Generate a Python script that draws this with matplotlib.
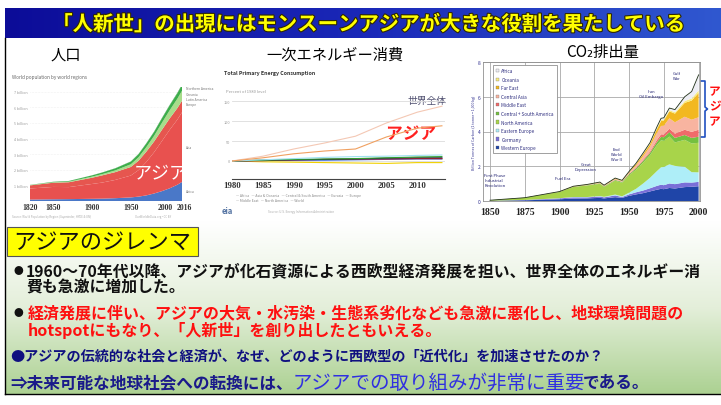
import matplotlib
matplotlib.use("Agg")
import matplotlib.pyplot as plt
import matplotlib.patheffects as pe
import matplotlib.transforms as mtransforms
from matplotlib.colors import LinearSegmentedColormap
from matplotlib.patches import Rectangle, Patch
import numpy as np

plt.rcParams['font.family'] = ['Noto Sans CJK JP', 'DejaVu Sans']

W, H = 721, 406

# ---- texts ----
title = "「人新世」の出現にはモンスーンアジアが大きな役割を果たしている"
chart_titles = ["人口", "一次エネルギー消費", "CO₂排出量"]
box_label = "アジアのジレンマ"
line1a = "1960～70年代以降、アジアが化石資源による西欧型経済発展を担い、世界全体のエネルギー消"
line1b = "費も急激に増加した。"
line2a = "経済発展に伴い、アジアの大気・水汚染・生態系劣化なども急激に悪化し、地球環境問題の"
line2b = "hotspotにもなり、「人新世」を創り出したともいえる。"
line3 = "●アジアの伝統的な社会と経済が、なぜ、どのように西欧型の「近代化」を加速させたのか？"
line4a = "⇒未来可能な地球社会への転換には、"
line4b = "アジアでの取り組みが非常に重要"
line4c = "である。"

# ---- population (billions) ----
pop_years = [1820, 1850, 1870, 1900, 1913, 1930, 1950, 1960, 1970, 1980, 1990, 2000, 2010, 2016]
pop_africa = [0.09, 0.11, 0.12, 0.14, 0.15, 0.18, 0.23, 0.28, 0.36, 0.48, 0.63, 0.81, 1.04, 1.22]
pop_asia = [0.71, 0.79, 0.77, 0.95, 1.03, 1.17, 1.40, 1.70, 2.14, 2.64, 3.20, 3.74, 4.17, 4.46]
pop_europe = [0.20, 0.27, 0.31, 0.40, 0.46, 0.50, 0.55, 0.60, 0.66, 0.69, 0.72, 0.73, 0.74, 0.74]
pop_latam = [0.02, 0.03, 0.04, 0.07, 0.08, 0.11, 0.17, 0.22, 0.29, 0.36, 0.45, 0.52, 0.60, 0.64]
pop_namerica = [0.01, 0.03, 0.04, 0.08, 0.10, 0.13, 0.17, 0.20, 0.23, 0.25, 0.28, 0.31, 0.34, 0.36]
pop_oceania = [0.002, 0.002, 0.004, 0.006, 0.008, 0.010, 0.013, 0.016, 0.020, 0.023, 0.027, 0.031, 0.037, 0.040]
pop_ticks = [1820, 1850, 1900, 1950, 2000, 2016]
pop_region_labels = ["Northern America", "Oceania", "Latin America", "Europe", "Asia", "Africa"]

# ---- primary energy (% change) ----
en_years = [1980, 1985, 1990, 1995, 2000, 2005, 2010, 2014]
en_world = [0, 12, 30, 45, 62, 95, 122, 137]
en_asia = [0, 8, 18, 25, 30, 60, 82, 88]
en_cyan = [0, 3, 6, 9, 11, 12, 14, 15]
en_green = [0, 2, 4, 5, 6, 8, 10, 11]
en_dark = [0, 2, 3, 4, 5, 7, 8, 8]
en_red = [0, 1, 3, 4, 5, 5, 6, 6]
en_blue = [0, 1, 2, 2, 3, 4, 5, 5]
en_yellow = [0, -2, -3, -4, -5, -6, -4, -4]
en_ticks = [1980, 1985, 1990, 1995, 2000, 2005, 2010]

# ---- CO2 emissions (billion tonnes carbon) ----
co2_years = [1850, 1875, 1900, 1910, 1920, 1929, 1932, 1940, 1945, 1950, 1955, 1960,
             1965, 1970, 1973, 1975, 1979, 1983, 1990, 1995, 2000]
co2_weurope = [0.01, 0.04, 0.10, 0.14, 0.15, 0.18, 0.15, 0.22, 0.18, 0.30, 0.38, 0.45,
               0.55, 0.65, 0.70, 0.68, 0.75, 0.72, 0.80, 0.82, 0.85]
co2_germany = [0.005, 0.02, 0.05, 0.07, 0.06, 0.08, 0.06, 0.10, 0.05, 0.08, 0.12, 0.15,
               0.18, 0.22, 0.24, 0.23, 0.26, 0.25, 0.27, 0.24, 0.25]
co2_eeurope = [0.0, 0.0, 0.01, 0.02, 0.02, 0.03, 0.03, 0.05, 0.04, 0.10, 0.20, 0.40,
               0.60, 0.85, 1.00, 1.05, 1.10, 1.05, 0.90, 0.60, 0.55]
co2_namerica = [0.03, 0.13, 0.36, 0.58, 0.66, 0.70, 0.57, 0.80, 0.78, 1.00, 1.10, 1.20,
                1.30, 1.50, 1.55, 1.50, 1.60, 1.35, 1.55, 1.65, 1.70]
co2_csamerica = [0.0, 0.0, 0.01, 0.01, 0.02, 0.03, 0.03, 0.04, 0.05, 0.06, 0.08, 0.10,
                 0.13, 0.17, 0.20, 0.21, 0.25, 0.26, 0.28, 0.32, 0.35]
co2_mideast = [0.0, 0.0, 0.0, 0.0, 0.0, 0.005, 0.005, 0.01, 0.01, 0.02, 0.04, 0.06,
               0.08, 0.12, 0.15, 0.16, 0.20, 0.25, 0.30, 0.35, 0.40]
co2_casia = [0.0, 0.0, 0.01, 0.02, 0.02, 0.03, 0.03, 0.05, 0.04, 0.07, 0.12, 0.20,
             0.28, 0.40, 0.48, 0.50, 0.60, 0.65, 0.75, 0.70, 0.72]
co2_fareast = [0.0, 0.0, 0.005, 0.01, 0.015, 0.02, 0.02, 0.03, 0.02, 0.04, 0.08, 0.12,
               0.14, 0.22, 0.28, 0.30, 0.40, 0.50, 0.80, 1.10, 1.40]
co2_oceania = [0.0, 0.0, 0.0, 0.0, 0.005, 0.005, 0.005, 0.01, 0.01, 0.01, 0.02, 0.03,
               0.04, 0.05, 0.06, 0.06, 0.07, 0.08, 0.10, 0.12, 0.14]
co2_africa = [0.0, 0.0, 0.0, 0.0, 0.005, 0.01, 0.01, 0.01, 0.01, 0.02, 0.03, 0.04,
              0.05, 0.08, 0.10, 0.10, 0.12, 0.15, 0.25, 0.40, 0.90]
co2_labels = ["Western Europe", "Germany", "Eastern Europe", "North America",
              "Central + South America", "Middle East", "Central Asia", "Far East",
              "Oceania", "Africa"]
co2_colors = ['#1f45a8', '#7a6fd8', '#aeeef8', '#a8d44a', '#74c040',
              '#f06a6a', '#f8b4a0', '#f2b820', '#f8ec80', '#eeeef4']
co2_events = ["First Phase\nIndustrial\nRevolution", "Fuel Era", "Great\nDepression",
              "End\nWorld\nWar II", "Iran\nOil Embargo", "Gulf\nWar"]
co2_event_pos = [(1846, 1.2), (1902, 1.3), (1919, 2.0), (1941, 2.7), (1966, 6.2), (1984, 7.2)]


def box(x0, y0, x1, y1):
    return [x0 / W, 1 - y1 / H, (x1 - x0) / W, (y1 - y0) / H]


fig = plt.figure(figsize=(7.21, 4.06), dpi=100)
bg = fig.add_axes([0, 0, 1, 1])
bg.axis('off')

# banner
blue = LinearSegmentedColormap.from_list('b', ['#0c0c98', '#1a28b8', '#3058d0'])
bg.imshow(np.linspace(0, 1, 256).reshape(1, -1), cmap=blue, extent=[5, W, 39, 9], aspect='auto')
bg.text(368, 25, title, color='#ffff00', fontsize=14.7, fontweight='bold', ha='center', va='center',
        path_effects=[pe.withStroke(linewidth=1.6, foreground='#302800')])

# green text area
green = LinearSegmentedColormap.from_list('g', ['#ffffff', '#e4efda', '#acd192'])
bg.imshow(np.linspace(0, 1, 200).reshape(-1, 1), cmap=green, extent=[5, W, 395, 222], aspect='auto')
bg.plot([5, 5], [39, 395], color='black', lw=1)
bg.plot([5, W], [395, 395], color='black', lw=1)

# chart titles
bg.text(66, 55, chart_titles[0], fontsize=11, ha='center', va='center')
bg.text(335, 55, chart_titles[1], fontsize=11, ha='center', va='center')
bg.text(603, 52, chart_titles[2], fontsize=11, ha='center', va='center')

# ---- population chart ----
ax1 = fig.add_axes(box(30, 88, 182, 202))
ax1.stackplot(pop_years, pop_africa, pop_asia, pop_europe, pop_latam, pop_namerica, pop_oceania,
              colors=['#4a78c8', '#e8514f', '#e6564f', '#a8dc8a', '#3cae4a', '#2a8a3a'], lw=0)
ax1.set_xlim(1820, 2016)
ax1.set_ylim(0, 7.3)
ax1.set_xticks(pop_ticks)
ax1.set_xticklabels([str(t) for t in pop_ticks], family=['Liberation Serif'], fontweight='bold',
                    fontsize=5.6, color='#333333')
ax1.set_yticks(range(1, 8))
ax1.set_yticklabels([f"{i} billion" for i in range(1, 8)], fontsize=2.6, color='#999999')
ax1.tick_params(length=0, pad=1.5)
# the last two year labels sit a little apart, as on the slide
for lab, dx in zip(ax1.get_xticklabels()[-2:], [-4, 2]):
    lab.set_transform(lab.get_transform() + mtransforms.ScaledTranslation(dx / 100, 0, fig.dpi_scale_trans))
ax1.grid(axis='y', ls=':', color='#e4e4e4', lw=0.4)
ax1.set_axisbelow(True)
for s in ax1.spines.values():
    s.set_visible(False)
ax1.patch.set_alpha(0)
ax1.text(1988, 1.85, "アジア", color='white', fontsize=13, ha='center', va='center', clip_on=True)
bg.text(12, 78, "World population by world regions", fontsize=3.4, color='#666666', va='center')
for lab, yy in zip(pop_region_labels, [89, 95, 100, 105, 148, 192]):
    bg.text(186, yy, lab, fontsize=2.4, color='#777777', va='center')
bg.text(12, 217, "Source: World Population by Region (Gapminder, HYDE & UN)", fontsize=2, color='#aaaaaa',
        va='center')
bg.text(135, 217, "OurWorldInData.org • CC BY", fontsize=2, color='#aaaaaa', va='center')

# ---- energy chart ----
ax2 = fig.add_axes(box(232, 98, 445, 180))
for vals, col in [(en_yellow, '#f0d000'), (en_blue, '#3060d0'), (en_red, '#d02020'),
                  (en_dark, '#202040'), (en_green, '#30a030'), (en_cyan, '#a0e0f0'),
                  (en_world, '#f4c8b4'), (en_asia, '#f0a060')]:
    ax2.plot(en_years, vals, color=col, lw=0.8)
ax2.set_xlim(1980, 2014.5)
ax2.set_ylim(-45, 160)
ax2.set_xticks(en_ticks)
ax2.set_xticklabels([str(t) for t in en_ticks], family=['Liberation Serif'], fontweight='bold',
                    fontsize=6.3, color='#333333')
ax2.set_yticks([0, 50, 100, 150])
ax2.set_yticklabels(['0', '50', '100', '150'], fontsize=2.8, color='#999999')
ax2.tick_params(length=0, pad=1.5)
ax2.grid(axis='y', color='#dcdcdc', lw=0.6)
ax2.set_axisbelow(True)
for k, s in ax2.spines.items():
    s.set_visible(k == 'bottom')
ax2.spines['bottom'].set_color('#444444')
ax2.patch.set_alpha(0)
bg.text(427, 101, "世界全体", fontsize=7, color='#505070', ha='center', va='center')
bg.text(411, 135, "アジア", fontsize=12, fontweight='bold', color='#ff2020', ha='center', va='center',
        path_effects=[pe.withStroke(linewidth=1.5, foreground='white')])
bg.text(224, 73, "Total Primary Energy Consumption", fontsize=3.8, fontweight='bold', color='#333333', va='center')
bg.text(226, 92, "Percent of 1980 level", fontsize=3, color='#999999', va='center')
bg.text(236, 196, "— Africa   — Asia & Oceania   — Central & South America   — Eurasia   — Europe",
        fontsize=2.5, color='#888888', va='center')
bg.text(236, 201, "— Middle East   — North America   — World", fontsize=2.5, color='#888888', va='center')
bg.text(222, 212, "eia", fontsize=5.5, style='italic', color='#5070a0', va='center', fontweight='bold')
bg.text(268, 212, "Source: U.S. Energy Information Administration", fontsize=2.2, color='#aaaaaa', va='center')

# ---- CO2 chart ----
ax3 = fig.add_axes(box(483, 63, 700, 202))
ax3.stackplot(co2_years, co2_weurope, co2_germany, co2_eeurope, co2_namerica, co2_csamerica,
              co2_mideast, co2_casia, co2_fareast, co2_oceania, co2_africa,
              colors=co2_colors, lw=0, zorder=2)
co2_total = np.sum([co2_weurope, co2_germany, co2_eeurope, co2_namerica, co2_csamerica,
                    co2_mideast, co2_casia, co2_fareast, co2_oceania, co2_africa], axis=0)
ax3.plot(co2_years, co2_total, color='#203018', lw=0.6, zorder=3)
ax3.set_xlim(1845, 2001)
ax3.set_ylim(0, 8)
ax3.set_xticks([1850, 1875, 1900, 1925, 1950, 1975, 2000])
ax3.set_xticklabels(['1850', '1875', '1900', '1925', '1950', '1975', '2000'], family=['Liberation Serif'],
                    fontweight='bold', fontsize=7, color='#222222')
ax3.set_yticks([0, 2, 4, 6, 8])
ax3.set_yticklabels(['0', '2', '4', '6', '8'], fontsize=3.5, color='#303090')
ax3.tick_params(length=0, pad=2)
ax3.tick_params(axis='x', pad=4)
ax3.grid(color='#a8a8a8', lw=0.6, zorder=0)
ax3.set_axisbelow(True)
for s in ax3.spines.values():
    s.set_color('#909090')
    s.set_linewidth(0.6)
ax3.set_ylabel("Billion Tonnes of Carbon (1 tonne = 1,000 kg)", fontsize=2.6, color='#303090', labelpad=1)
handles = [Patch(facecolor=c, edgecolor='#606060', lw=0.2) for c in co2_colors[::-1]]
leg = ax3.legend(handles, co2_labels[::-1], loc='upper left', bbox_to_anchor=(0.045, 0.975),
                 fontsize=3.4, frameon=True, fancybox=False, edgecolor='#909090', framealpha=1,
                 handlelength=0.7, handleheight=0.7, handletextpad=0.5, labelspacing=0.75,
                 borderpad=0.6, borderaxespad=0, labelcolor='#303080')
leg.get_frame().set_linewidth(0.6)
leg.set_zorder(5)
for txt, (xx, yy) in zip(co2_events, co2_event_pos):
    ax3.text(xx, yy, txt, fontsize=3, color='#202070', ha='left' if xx < 1850 else 'center',
             va='center', linespacing=1.3, zorder=6)

# bracket and red label at the right edge
bg.plot([701, 705, 705, 707.5, 705, 705, 701], [82, 82, 108, 110, 112, 138, 138], color='#2050c0', lw=1.2)
for ch, yy in zip("アジア", [92, 107, 122]):
    bg.text(709, yy, ch, fontsize=8.4, fontweight='bold', color='#ff1010', ha='left', va='center')

# ---- dilemma box and bullets ----
bg.add_patch(Rectangle((7, 228), 191, 29, facecolor='#ffff00', edgecolor='#555555', lw=0.8))
bg.text(102, 242.5, box_label, fontsize=16, ha='center', va='center', color='#111111')

bg.text(13, 271, "●", fontsize=7, color='#111111', ha='left', va='center')
bg.text(26, 271, line1a, fontsize=11.4, fontweight='bold', color='#111111', va='center')
bg.text(26, 288, line1b, fontsize=11.4, fontweight='bold', color='#111111', va='center')
bg.text(13, 313, "●", fontsize=7, color='#111111', ha='left', va='center')
bg.text(28, 313, line2a, fontsize=11.5, fontweight='bold', color='#ff1010', va='center')
bg.text(28, 331, line2b, fontsize=11.5, fontweight='bold', color='#ff1010', va='center')
bg.text(10, 357, line3, fontsize=10.2, fontweight='bold', color='#101080', va='center')
bg.text(10, 383, line4a, fontsize=12, fontweight='bold', color='#1a1a8a', va='center')
bg.text(293, 383, line4b, fontsize=14, color='#3030e0', va='center')
bg.text(583, 383, line4c, fontsize=12, fontweight='bold', color='#1a1a8a', va='center')

bg.set_xlim(0, W)
bg.set_ylim(H, 0)

fig.savefig("out.png", dpi=100)
